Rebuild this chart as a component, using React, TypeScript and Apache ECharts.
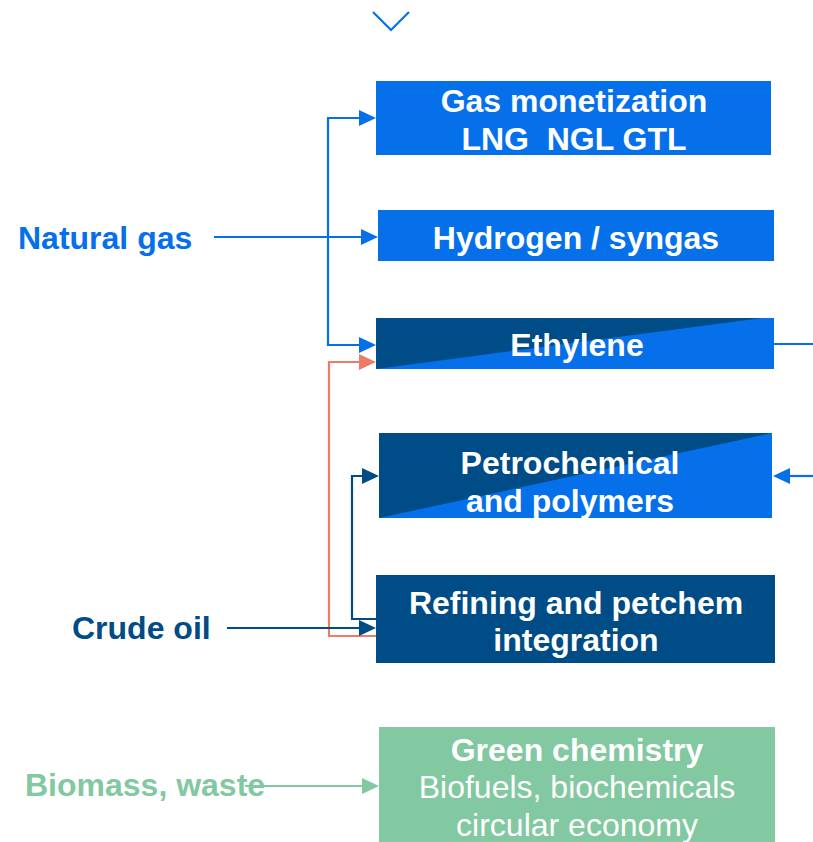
import React, { useEffect, useRef } from "react";
import * as echarts from "echarts";

// Diagram content
const feedstocks = ["Natural gas", "Crude oil", "Biomass, waste"];
const boxTitles: string[][] = [
  ["Gas monetization", "LNG  NGL GTL"],
  ["Hydrogen / syngas"],
  ["Ethylene"],
  ["Petrochemical", "and polymers"],
  ["Refining and petchem", "integration"],
  ["Green chemistry"],
];
const greenSubtitles = ["Biofuels, biochemicals", "circular economy"];

const BLUE = "#0570EA";
const DARK = "#004C86";
const SALMON = "#EE7B6A";
const GREEN = "#82C8A0";
const FONT = "Liberation Sans, Arial, sans-serif";

type Pt = [number, number];

function arrow(points: Pt[], color: string, head = true): any[] {
  const els: any[] = [];
  const pts = points.map((p) => [p[0], p[1]] as Pt);
  if (head) {
    const n = pts.length;
    const [x1, y1] = pts[n - 2];
    const [x2, y2] = pts[n - 1];
    const len = Math.hypot(x2 - x1, y2 - y1);
    const ux = (x2 - x1) / len;
    const uy = (y2 - y1) / len;
    const L = 17;
    const W = 8;
    const bx = x2 - ux * L;
    const by = y2 - uy * L;
    pts[n - 1] = [bx + ux * 2, by + uy * 2];
    els.push({
      type: "polygon",
      shape: {
        points: [
          [x2, y2],
          [bx - uy * W, by + ux * W],
          [bx + uy * W, by - ux * W],
        ],
      },
      style: { fill: color },
      z: 10,
    });
  }
  els.unshift({
    type: "polyline",
    shape: { points: pts },
    style: { stroke: color, lineWidth: 2.2, fill: null },
    z: 9,
  });
  return els;
}

function text(str: string, x: number, y: number, color: string, bold = true, align = "center", size = 32): any {
  return {
    type: "text",
    style: {
      text: str,
      x,
      y,
      fill: color,
      font: `${bold ? "bold " : ""}${size}px ${FONT}`,
      textAlign: align,
      textVerticalAlign: "middle",
    },
    z: 20,
  };
}

export default function App() {
  const ref = useRef<HTMLDivElement>(null);
  useEffect(() => {
    if (!ref.current) return;
    const chart = echarts.init(ref.current, undefined, { renderer: "svg" });

    const boxes = [
      { x: 376, y: 81, w: 395, h: 74, color: BLUE, lines: [101, 139], cx: 574 },
      { x: 378, y: 210, w: 396, h: 51, color: BLUE, lines: [238], cx: 576 },
      { x: 376, y: 318, w: 398, h: 51, color: BLUE, lines: [345], cx: 577 },
      { x: 379, y: 433, w: 393, h: 85, color: BLUE, lines: [463, 501], cx: 570 },
      { x: 376, y: 575, w: 399, h: 88, color: DARK, lines: [603, 640], cx: 576 },
      { x: 379, y: 727, w: 396, h: 130, color: GREEN, lines: [750], cx: 577 },
    ];

    const els: any[] = [];
    boxes.forEach((b, i) => {
      els.push({
        type: "rect",
        shape: { x: b.x, y: b.y, width: b.w, height: b.h },
        style: { fill: b.color },
        z: 1,
      });
      boxTitles[i].forEach((t, j) => els.push(text(t, b.cx, b.lines[j], "#ffffff")));
    });
    // diagonal dark halves
    els.push({
      type: "polygon",
      shape: { points: [[376, 318], [762, 318], [376, 369]] },
      style: { fill: DARK },
      z: 2,
    });
    els.push({
      type: "polygon",
      shape: { points: [[379, 433], [772, 433], [379, 518]] },
      style: { fill: DARK },
      z: 2,
    });
    greenSubtitles.forEach((t, j) => els.push(text(t, 577, 787 + j * 38, "#ffffff", false)));

    // feedstock labels
    els.push(text(feedstocks[0], 18, 238, BLUE, true, "left"));
    els.push(text(feedstocks[1], 72, 628, DARK, true, "left"));
    els.push(text(feedstocks[2], 25, 785, GREEN, true, "left"));

    // top chevron
    els.push({
      type: "polyline",
      shape: { points: [[373, 12], [391, 30], [409, 12]] },
      style: { stroke: BLUE, lineWidth: 2.2, fill: null },
    });

    // natural gas arrows
    els.push(...arrow([[214, 237], [378, 237]], BLUE));
    els.push(...arrow([[328, 237], [328, 118], [376, 118]], BLUE));
    els.push(...arrow([[328, 237], [328, 345], [376, 345]], BLUE));
    // crude oil -> ethylene (salmon)
    els.push(...arrow([[376, 636], [329, 636], [329, 362], [376, 362]], SALMON));
    // crude oil -> refining
    els.push(...arrow([[227, 628], [376, 628]], DARK));
    // refining -> petrochemical
    els.push(...arrow([[376, 619], [352, 619], [352, 476], [379, 476]], DARK));
    // right side
    els.push(...arrow([[774, 344], [813, 344]], BLUE, false));
    els.push(...arrow([[813, 476], [773, 476]], BLUE));
    // biomass
    els.push(...arrow([[245, 786], [379, 786]], GREEN));

    chart.setOption({
      animation: false,
      backgroundColor: "#ffffff",
      graphic: { elements: els },
    });
    return () => chart.dispose();
  }, []);
  return (
    <div
      ref={ref}
      style={{ position: "fixed", left: 0, top: 0, width: 813, height: 842 }}
    />
  );
}
